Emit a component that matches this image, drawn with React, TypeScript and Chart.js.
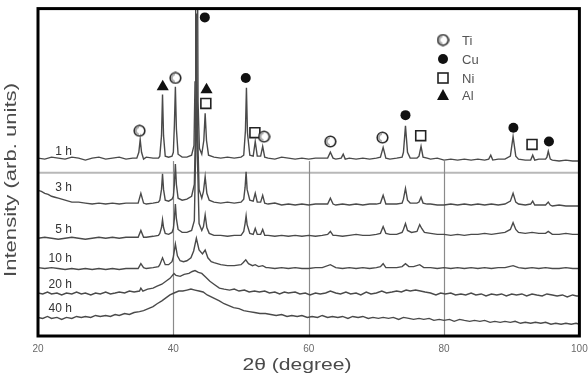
import React, { useEffect, useRef } from "react";
import { Chart, registerables } from "chart.js";
Chart.register(...registerables);

// 2θ range and tick labels
const xTicks = [20, 40, 60, 80, 100];
const gridLines = [40, 60, 80];
const seriesNames = ["1 h", "3 h", "5 h", "10 h", "20 h", "40 h"];
// label heights (arb. units, same offset scale as the traces)
const seriesLabelLevel = [189, 152, 109, 79, 53, 28];
const separatorLevel = 167;
const gridTopLevel = 179;

// XRD traces: [2θ, intensity (arb. units, offset per milling time)]
const trace1h: number[][] = [
  [20,182],[21,181],[22,183],[23,182],[24,181],[25,183],[26,182],[27,180],[28,182],[29,183],[30,181],[31,182],[32,183],[33,181],[34,182],
  [34.6,182],[34.9,188],[35.1,201],[35.3,188],[35.6,181],
  [36,183],[37,182],[37.8,182],
  [38.0,184],[38.25,205],[38.4,247],[38.55,205],[38.8,184],
  [39.3,183],[39.8,184],
  [40.0,188],[40.15,215],[40.3,255],[40.45,212],[40.7,186],
  [41.3,183],[42,183],[42.7,185],
  [43.05,195],[43.2,260],[43.3,420],[43.55,420],[43.65,240],[43.85,192],
  [44.2,186],[44.5,200],[44.7,228],[44.9,200],[45.2,185],
  [46,183],[47,182],[48,183],[49,182],[50,183],
  [50.4,185],[50.65,210],[50.8,254],[50.95,208],[51.3,185],
  [51.8,184],[52.1,199],[52.4,184],
  [52.9,184],[53.2,194],[53.5,183],
  [54,182],[55,181],[56,183],[57,182],[58,181],[59,182],[60,181],[61,182],[62,182],
  [62.8,182],[63.2,188],[63.6,182],
  [64,181],[64.8,182],[65.1,186],[65.4,181],[66,182],[67,181],[68,182],[69,181],[70,182],
  [70.6,183],[71.0,193],[71.4,182],
  [72,181],[73,182],[73.8,183],
  [74.0,188],[74.3,215],[74.6,188],
  [75,182],[76,182],
  [76.3,184],[76.6,194],[76.9,183],
  [77.5,182],[78,181],[79,182],[80,180],[81,181],[82,180],[83,181],[84,180],[85,181],[86,180],
  [86.6,181],[86.9,185],[87.2,180],
  [88,181],[89,181],
  [89.8,184],[90.2,204],[90.6,184],
  [91,181],[92,180],
  [92.8,180],[93.1,185],[93.4,180],
  [94,181],[95,181],
  [95.2,183],[95.4,189],[95.7,181],
  [96,180],[97,179],[98,180],[99,179],[100,179],
];

const trace3h: number[][] = [
  [20,149],[20.5,148],[21,146],[21.5,145],[22,143],[22.5,142],[23,141],[24,139],[25,137],[26,137],[27,136],[28,135],[29,136],[30,135],[31,136],[32,135],[33,136],[34,136],
  [34.8,136],[35.2,146],[35.6,136],
  [36,135],[37,136],[37.8,137],
  [38.0,139],[38.25,150],[38.4,166],[38.55,150],[38.8,139],
  [39.3,138],[39.8,140],
  [40.0,143],[40.15,155],[40.3,176],[40.45,155],[40.7,141],
  [41.3,139],[42,140],[42.7,143],
  [43.1,155],[43.3,220],[43.4,330],[43.55,220],[43.8,150],
  [44.2,141],
  [44.45,148],[44.7,163],[44.95,146],[45.3,139],
  [46,137],[47,136],[48,137],[49,136],[50,137],
  [50.4,140],[50.6,152],[50.75,168],[50.9,150],[51.3,139],
  [51.8,138],[52.1,146],[52.4,137],
  [52.9,137],[53.2,144],[53.5,136],
  [54,135],[55,136],[56,134],[57,135],[58,134],[59,135],[60,134],[61,135],[62,135],
  [62.8,135],[63.2,141],[63.6,135],
  [64,134],[65,135],[66,134],[67,135],[68,134],[69,135],[70,135],
  [70.6,136],[71.0,144],[71.4,135],
  [72,135],[73,135],[73.8,136],
  [74.0,140],[74.3,151],[74.6,139],
  [75,136],[76,136],
  [76.3,137],[76.6,142],[76.9,136],
  [77.5,135],[78,135],[79,134],[80,134],[81,135],[82,134],[83,135],[84,134],[85,135],[86,134],[87,135],[88,134],[89,135],
  [89.8,138],[90.2,146],[90.6,137],
  [91,135],[92,134],
  [92.8,135],[93.1,138],[93.4,134],
  [94,134],[95,134],[95.4,137],[95.7,134],[96,133],[97,134],[98,133],[99,133],[100,133],
];

const trace5h: number[][] = [
  [20,100],[21,101],[22,100],[23,99],[24,100],[25,101],[26,100],[27,99],[28,100],[29,101],[30,100],[31,101],[32,100],[33,101],[34,101],
  [34.8,101],[35.2,108],[35.6,101],
  [36,101],[37,102],[37.8,103],
  [38.0,105],[38.25,111],[38.4,119],[38.55,111],[38.8,105],
  [39.3,104],[39.8,106],
  [40.0,110],[40.15,120],[40.3,135],[40.45,120],[40.7,109],
  [41.3,106],[42,106],[42.7,108],
  [43.1,118],[43.3,190],[43.4,260],[43.55,185],[43.8,115],
  [44.2,108],
  [44.45,112],[44.7,124],[44.95,111],[45.3,105],
  [46,103],[47,103],[48,102],[49,103],[50,103],
  [50.4,107],[50.6,115],[50.75,123],[50.9,114],[51.3,105],
  [51.8,104],[52.1,110],[52.4,104],
  [52.9,104],[53.2,109],[53.5,103],
  [54,103],[55,102],[56,103],[57,102],[58,103],[59,102],[60,103],[61,102],[62,103],
  [62.8,104],[63.2,107],[63.6,103],
  [64,103],[65,102],[66,103],[67,104],[68,103],[69,103],[70,104],
  [70.6,105],[71.0,112],[71.4,105],
  [72,104],[73,104],[73.8,106],
  [74.0,109],[74.3,115],[74.6,108],[75.2,106],
  [76.0,107],[76.4,114],[76.7,110],[77.1,106],
  [78,105],[79,104],[80,104],[81,103],[82,104],[83,103],[84,104],[85,104],[86,105],[87,104],[88,105],[89,106],
  [89.8,109],[90.2,116],[90.6,109],[91,106],
  [92,105],[93,106],[94,105],[95,105],[95.4,107],[96,104],[97,104],[98,105],[99,104],[100,104],
];

const trace10h: number[][] = [
  [20,70],[21,69],[22,70],[23,69],[24,68],[25,69],[26,68],[27,69],[28,68],[29,69],[30,68],[31,69],[32,68],[33,69],[34,69],
  [34.8,69],[35.2,74],[35.6,70],
  [36,69],[37,70],[37.8,71],
  [38.0,73],[38.4,80],[38.8,73],
  [39.3,73],[39.8,76],
  [40.0,81],[40.3,94],[40.6,82],[41,77],
  [41.5,76],[42,77],[42.6,80],
  [43.0,87],[43.4,100],[43.8,88],
  [44.3,84],[44.7,88],[45.1,80],[45.6,76],
  [46,75],[46.5,74],[47,73],[48,72],[49,72],[50,73],
  [50.3,75],[50.7,78],[51.1,74],
  [51.7,72],[52.1,73],[52.6,71],[53.2,72],[53.7,70],
  [54,70],[55,69],[56,70],[57,69],[58,70],[59,69],[60,69],[61,70],[62,70],
  [63.2,73],
  [64,70],[65,69],[66,70],[67,69],[68,70],[69,69],[70,70],
  [70.6,71],[71.0,74],[71.4,70],
  [72,70],[73,70],[73.8,71],[74.3,74],[74.8,71],[75.5,71],[76.4,73],[77,70],
  [78,70],[79,69],[80,70],[81,69],[82,70],[83,69],[84,70],[85,69],[86,70],[87,69],[88,70],[89,70],[90.2,72],[91,70],[92,69],[93,70],[94,69],[95,70],[96,69],[97,69],[98,70],[99,69],[100,69],
];

const trace20h: number[][] = [
  [20,44],[20.7,43],[21.4,45],[22,43],[22.8,44],[23.5,42],[24.2,44],[25,43],[25.7,45],[26.4,43],[27,44],[27.8,42],[28.5,44],[29.2,43],[30,45],[30.7,43],[31.4,44],[32,45],[32.8,44],[33.5,46],[34.2,45],[35,46],[35.2,49],[35.5,46],[36.2,48],[37,49],[37.6,51],[38.3,53],[38.9,56],[39.5,59],[40.1,64],[40.4,62],[41,61],[41.6,63],[42.3,64],[42.8,66],[43.2,67],[43.7,65],[44.2,64],[44.8,60],[45.4,56],[46,53],[46.8,49],[47.5,48],[48.3,47],[49,48],[49.7,46],[50.5,47],[51.2,45],[52,46],[52.7,45],[53.5,46],[54.2,44],[55,45],[55.7,43],[56.4,45],[57,44],[58,45],[58.7,43],[59.5,44],[60.2,42],[61,44],[61.7,43],[62.5,44],[63.2,46],[64,44],[64.7,43],[65.5,45],[66.2,43],[67,44],[67.7,42],[68.5,45],[69.2,43],[70,44],[70.8,46],[71.5,44],[72.3,45],[73,46],[73.7,45],[74.4,47],[75,46],[75.8,47],[76.5,46],[77.2,45],[78,44],[78.8,42],[79.5,44],[80.2,43],[81,44],[81.7,42],[82.5,43],[83.2,42],[84,44],[84.7,42],[85.5,43],[86.2,41],[87,43],[87.8,42],[88.5,43],[89.2,41],[90,43],[90.7,42],[91.5,43],[92.2,41],[93,43],[93.7,42],[94.5,41],[95.2,43],[96,42],[96.7,41],[97.5,42],[98.2,40],[99,42],[99.6,41],[100,41],
];

const trace40h: number[][] = [
  [20,19],[20.7,18],[21.4,20],[22,18],[22.8,19],[23.5,17],[24.2,19],[25,18],[25.7,20],[26.4,19],[27,20],[27.8,19],[28.5,21],[29.2,20],[30,21],[30.7,20],[31.4,22],[32,21],[32.8,23],[33.5,22],[34.2,24],[35,25],[35.6,26],[36.3,28],[37,30],[37.6,33],[38.3,36],[38.9,39],[39.5,42],[40.1,44],[40.8,46],[41.4,46],[42,47],[42.6,48],[43.2,47],[43.8,46],[44.4,45],[45,42],[45.6,40],[46.2,38],[46.8,36],[47.5,33],[48.2,31],[48.9,29],[49.7,28],[50.4,26],[51.2,25],[52,24],[52.8,23],[53.6,23],[54.4,22],[55.2,21],[56,22],[56.8,20],[57.5,21],[58.3,20],[59,21],[59.8,19],[60.5,20],[61.3,19],[62,21],[62.8,19],[63.5,20],[64.3,19],[65,20],[65.8,18],[66.5,20],[67.3,19],[68,20],[68.8,18],[69.5,19],[70.3,18],[71,19],[71.8,18],[72.5,19],[73.3,17],[74,19],[74.8,18],[75.5,17],[76.3,18],[77,17],[77.8,18],[78.5,16],[79.3,17],[80,16],[80.8,17],[81.5,15],[82.3,17],[83,16],[83.8,15],[84.5,16],[85.3,15],[86,16],[86.8,14],[87.5,15],[88.3,14],[89,15],[89.8,14],[90.5,15],[91.3,13],[92,14],[92.8,13],[93.5,14],[94.3,13],[95,14],[95.8,12],[96.5,13],[97.3,12],[98,13],[98.8,12],[99.5,13],[100,12],
];

const traces = [trace1h, trace3h, trace5h, trace10h, trace20h, trace40h];

// Phase markers [2θ, level]
const tiMarks: number[][] = [[35.0,210],[40.3,264],[53.4,204],[63.2,199],[70.9,203]];
const cuMarks: number[][] = [[44.65,326],[50.7,264],[74.3,226],[90.25,213],[95.5,199]];
const niMarks: number[][] = [[44.8,238],[52.05,208],[76.55,205],[93.0,196]];
const alMarks: number[][] = [[38.43,255],[44.9,252]];
const phaseNames = ["Ti", "Cu", "Ni", "Al"];

const toXY = (a: number[][]) => a.map(([x, y]) => ({ x, y }));

function makeTiImage(size: number): HTMLCanvasElement {
  const c = document.createElement("canvas");
  c.width = size; c.height = size;
  const g = c.getContext("2d")!;
  const r = size / 2 - 1.2;
  g.beginPath(); g.arc(size / 2, size / 2, r, 0, Math.PI * 2);
  g.fillStyle = "#fff"; g.fill();
  g.lineWidth = 1.6; g.strokeStyle = "#222"; g.stroke();
  g.beginPath(); g.arc(size / 2, size / 2, r - 1.6, Math.PI * 0.55, Math.PI * 1.45);
  g.lineWidth = 2; g.strokeStyle = "#aaa"; g.stroke();
  return c;
}

function drawMarker(ctx: CanvasRenderingContext2D, kind: number, x: number, y: number, ti: HTMLCanvasElement) {
  ctx.save();
  if (kind === 0) {
    ctx.drawImage(ti, x - ti.width / 2, y - ti.height / 2);
  } else if (kind === 1) {
    ctx.beginPath(); ctx.arc(x, y, 5, 0, Math.PI * 2); ctx.fillStyle = "#111"; ctx.fill();
  } else if (kind === 2) {
    ctx.fillStyle = "#fff"; ctx.fillRect(x - 5, y - 5, 10, 10);
    ctx.lineWidth = 1.6; ctx.strokeStyle = "#222"; ctx.strokeRect(x - 5, y - 5, 10, 10);
  } else {
    ctx.beginPath(); ctx.moveTo(x, y - 6); ctx.lineTo(x + 6, y + 5); ctx.lineTo(x - 6, y + 5); ctx.closePath();
    ctx.fillStyle = "#111"; ctx.fill();
  }
  ctx.restore();
}

function stretchedText(ctx: CanvasRenderingContext2D, text: string, cx: number, cy: number, font: string, targetLen: number, vertical: boolean, color: string) {
  ctx.save();
  ctx.font = font;
  ctx.fillStyle = color;
  ctx.textAlign = "center";
  ctx.textBaseline = "middle";
  const w = ctx.measureText(text).width;
  ctx.translate(cx, cy);
  if (vertical) ctx.rotate(-Math.PI / 2);
  ctx.scale(targetLen / w, 1);
  ctx.fillText(text, 0, 0);
  ctx.restore();
}

export default function App() {
  const ref = useRef<HTMLCanvasElement>(null);
  useEffect(() => {
    document.body.style.margin = "0";
    const canvas = ref.current!;
    const ti = makeTiImage(13);
    const lineColor = "#4a4a4a";

    const decor = {
      id: "decor",
      beforeDatasetsDraw(chart: any) {
        const { ctx, chartArea: a, scales } = chart;
        const x = scales.x, y = scales.y;
        ctx.save();
        ctx.strokeStyle = "#b8b8b8";
        ctx.lineWidth = 2;
        const hy = y.getPixelForValue(separatorLevel);
        ctx.beginPath(); ctx.moveTo(a.left, hy); ctx.lineTo(a.right, hy); ctx.stroke();
        ctx.strokeStyle = "#8a8a8a";
        ctx.lineWidth = 1.2;
        for (const g of gridLines) {
          const px = Math.round(x.getPixelForValue(g)) + 0.5;
          ctx.beginPath(); ctx.moveTo(px, y.getPixelForValue(gridTopLevel)); ctx.lineTo(px, a.bottom); ctx.stroke();
        }
        ctx.restore();
      },
      afterDraw(chart: any) {
        const { ctx, chartArea: a, scales } = chart;
        const x = scales.x, y = scales.y;
        ctx.save();
        ctx.strokeStyle = "#000";
        ctx.lineWidth = 3;
        ctx.strokeRect(a.left, a.top, a.right - a.left, a.bottom - a.top);
        ctx.font = "10px 'Liberation Sans', Arial, sans-serif";
        ctx.fillStyle = "#6a6a6a";
        ctx.textAlign = "center";
        ctx.textBaseline = "middle";
        for (const t of xTicks) ctx.fillText(String(t), x.getPixelForValue(t), a.bottom + 13);
        ctx.font = "12px 'Liberation Sans', Arial, sans-serif";
        ctx.fillStyle = "#333";
        ctx.textAlign = "right";
        seriesNames.forEach((n, i) => {
          ctx.fillText(n, x.getPixelForValue(25), y.getPixelForValue(seriesLabelLevel[i]));
        });
        ctx.font = "13px 'Liberation Sans', Arial, sans-serif";
        ctx.fillStyle = "#555";
        ctx.textAlign = "left";
        const ly = [40, 59, 78, 95];
        phaseNames.forEach((n, i) => {
          drawMarker(ctx, i, 443, ly[i], ti);
          ctx.fillText(n, 462, ly[i] + 1);
        });
        ctx.restore();
        stretchedText(ctx, "2θ (degree)", 297, 366, "16px 'Liberation Sans', Arial, sans-serif", 109, false, "#4a4a4a");
        stretchedText(ctx, "Intensity (arb. units)", 11, 180, "17px 'Liberation Sans', Arial, sans-serif", 194, true, "#4a4a4a");
      },
    };

    const lineSets = traces.map((t, i) => ({
      type: "line" as const,
      label: seriesNames[i],
      data: toXY(t),
      borderColor: lineColor,
      borderWidth: 1.4,
      pointRadius: 0,
      tension: 0,
      fill: false,
    }));

    const markSets = [
      { data: toXY(tiMarks), pointStyle: ti as any, pointRadius: 6, backgroundColor: "#fff", borderColor: "#222" },
      { data: toXY(cuMarks), pointStyle: "circle", pointRadius: 5, backgroundColor: "#111", borderColor: "#111", borderWidth: 0 },
      { data: toXY(niMarks), pointStyle: "rect", pointRadius: 7, backgroundColor: "#fff", borderColor: "#222", borderWidth: 1.6 },
      { data: toXY(alMarks), pointStyle: "triangle", pointRadius: 7, backgroundColor: "#111", borderColor: "#111", borderWidth: 0 },
    ].map((m, i) => ({ type: "scatter" as const, label: phaseNames[i], showLine: false, clip: false as any, ...m }));

    const chart = new Chart(canvas, {
      type: "line",
      data: { datasets: [...lineSets, ...markSets] as any },
      options: {
        animation: false,
        responsive: false,
        layout: { padding: { left: 38, right: 6, top: 1, bottom: 40 } },
        plugins: { legend: { display: false }, tooltip: { enabled: false } },
        scales: {
          x: { type: "linear", min: 20, max: 100, display: false },
          y: { type: "linear", min: 0, max: 335, display: false },
        },
      },
      plugins: [decor],
    });
    return () => chart.destroy();
  }, []);
  return <canvas ref={ref} width={588} height={376} style={{ display: "block" }} />;
}
